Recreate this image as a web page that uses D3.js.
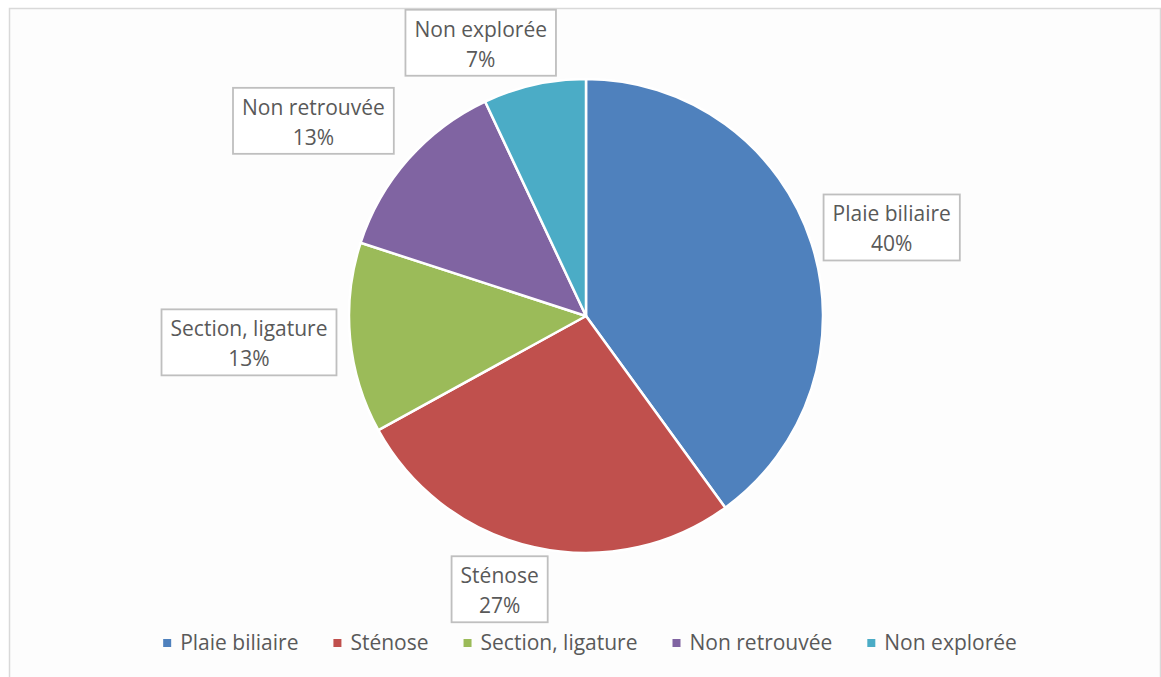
<!DOCTYPE html>
<html>
<head>
<meta charset="utf-8">
<script src="https://cdn.jsdelivr.net/npm/d3@7"></script>
<style>
  html, body { margin: 0; padding: 0; background: #ffffff; }
  svg { display: block; }
  text { font-family: "Open Sans", "DejaVu Sans", sans-serif; fill: #595959; }
</style>
</head>
<body>
<svg id="chart" width="1161" height="677"></svg>
<script>
// Répartition des lésions biliaires (%)
const categories = ["Plaie biliaire", "Sténose", "Section, ligature", "Non retrouvée", "Non explorée"];
const values = [40, 27, 13, 13, 7];
const colors = ["#4f81bd", "#c0504d", "#9bbb59", "#8064a2", "#4bacc6"];

// Layout
const W = 1161, H = 677;
const cx = 586, cy = 316, R = 237;
const fontSize = 21;
const lineGap = 30;
const padX = 9;
// label nudges (dx, dy) applied after the outside-end placement
const labelNudge = [[6, -2], [-22, 0], [-4, 0], [-27, -10], [-35, 0]];

const svg = d3.select("#chart");

// chart area frame
svg.append("rect")
  .attr("x", 9.5).attr("y", 8.5)
  .attr("width", W - 10).attr("height", H)
  .attr("fill", "#fdfdfd")
  .attr("stroke", "#d9d9d9").attr("stroke-width", 1.5);

const pie = d3.pie().sort(null).value(d => d);
const arcs = pie(values);
const arc = d3.arc().innerRadius(0).outerRadius(R);

const g = svg.append("g").attr("transform", `translate(${cx},${cy})`);

g.selectAll("path.slice")
  .data(arcs)
  .join("path")
  .attr("class", "slice")
  .attr("d", arc)
  .attr("fill", (d, i) => colors[i])
  .attr("stroke", "#ffffff")
  .attr("stroke-width", 2.5)
  .attr("stroke-linejoin", "round");

// data labels: boxed, outside end
const labels = g.selectAll("g.lbl")
  .data(arcs)
  .join("g")
  .attr("class", "lbl");

labels.each(function(d, i) {
  const grp = d3.select(this);
  const t1 = grp.append("text")
    .attr("text-anchor", "middle")
    .attr("font-size", fontSize)
    .text(categories[i]);
  const t2 = grp.append("text")
    .attr("text-anchor", "middle")
    .attr("font-size", fontSize)
    .text(values[i] + "%");
  const w = Math.max(t1.node().getComputedTextLength(), t2.node().getComputedTextLength()) + 2 * padX;
  const h = 66;
  const mid = (d.startAngle + d.endAngle) / 2;
  const ax = Math.sin(mid) * (R + 10);
  const ay = -Math.cos(mid) * (R + 10);
  const bx = ax + Math.sin(mid) * w / 2 + labelNudge[i][0];
  const by = ay - Math.cos(mid) * h / 2 + labelNudge[i][1];
  grp.insert("rect", "text")
    .attr("x", bx - w / 2).attr("y", by - h / 2)
    .attr("width", w).attr("height", h)
    .attr("fill", "#ffffff")
    .attr("stroke", "#bfbfbf").attr("stroke-width", 1.8);
  t1.attr("x", bx).attr("y", by - lineGap / 2 + 9);
  t2.attr("x", bx).attr("y", by + lineGap / 2 + 9);
});

// legend
const legend = svg.append("g").attr("class", "legend");
const legendY = 643;
const sw = 8, swGap = 9, itemGap = 35;
let xPos = 0;
const items = legend.selectAll("g.item")
  .data(categories)
  .join("g")
  .attr("class", "item");
items.each(function(name, i) {
  const it = d3.select(this);
  it.append("rect")
    .attr("x", xPos).attr("y", legendY - sw / 2)
    .attr("width", sw).attr("height", sw)
    .attr("fill", colors[i]);
  const t = it.append("text")
    .attr("x", xPos + sw + swGap)
    .attr("y", legendY + 7)
    .attr("font-size", fontSize)
    .text(name);
  xPos += sw + swGap + t.node().getComputedTextLength() + itemGap;
});
const legendW = xPos - itemGap;
legend.attr("transform", `translate(${590 - legendW / 2},0)`);
</script>
</body>
</html>
